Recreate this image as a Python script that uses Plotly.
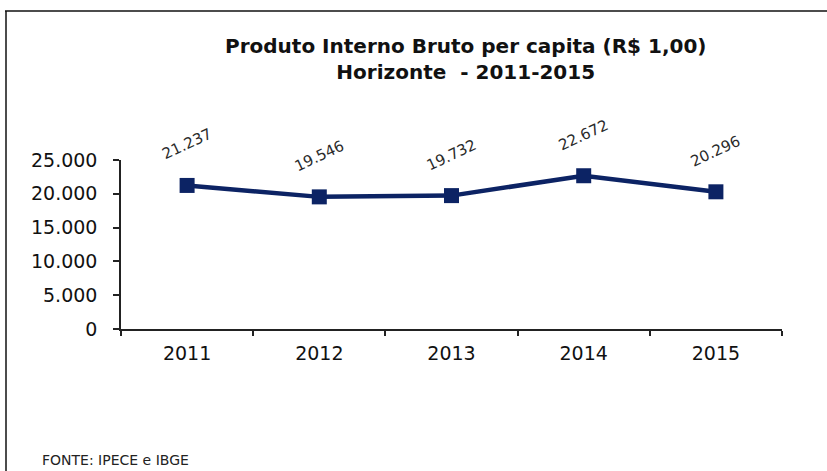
import plotly.graph_objects as go

years = ["2011", "2012", "2013", "2014", "2015"]
pib = [21237, 19546, 19732, 22672, 20296]
pib_labels = ["21.237", "19.546", "19.732", "22.672", "20.296"]
y_ticks = [0, 5000, 10000, 15000, 20000, 25000]
y_tick_labels = ["0", "5.000", "10.000", "15.000", "20.000", "25.000"]

navy = "#0c2364"

fig = go.Figure()
fig.add_trace(go.Scatter(
    x=years, y=pib, mode="lines+markers",
    line=dict(color=navy, width=4.5),
    marker=dict(symbol="square", size=15, color=navy),
    showlegend=False, hoverinfo="skip",
))

for i, (y, t) in enumerate(zip(pib, pib_labels)):
    fig.add_annotation(x=i, y=y, xref="x", yref="y", text=t, showarrow=False,
                       textangle=-25, yshift=41,
                       font=dict(family="DejaVu Sans", size=15, color="#2a2a2a"))

W, H = 827, 471
L, R, T, B = 121, 45, 160, 142
pw, ph = W - L - R, H - T - B

def px(xp):
    return (xp - L) / pw

def py(yp):
    return (H - B - yp) / ph

fig.add_annotation(x=px(465.5), y=py(59), xref="paper", yref="paper",
                   text="<b>Produto Interno Bruto per capita (R$ 1,00)<br>Horizonte  - 2011-2015</b>",
                   showarrow=False, align="center", xanchor="center", yanchor="middle",
                   font=dict(family="DejaVu Sans", size=20, color="#111111"))
fig.add_annotation(x=px(40), y=py(460), xref="paper", yref="paper",
                   text="FONTE: IPECE e IBGE", showarrow=False,
                   xanchor="left", yanchor="middle",
                   font=dict(family="DejaVu Sans", size=14, color="#222222"))

# border (top and left lines)
fig.add_shape(type="line", xref="paper", yref="paper",
              x0=px(5), x1=px(830), y0=py(11), y1=py(11),
              line=dict(color="#111111", width=1.5))
fig.add_shape(type="line", xref="paper", yref="paper",
              x0=px(6), x1=px(6), y0=py(11), y1=py(480),
              line=dict(color="#111111", width=1.5))

fig.update_layout(
    width=W, height=H,
    margin=dict(l=L, r=R, t=T, b=B),
    paper_bgcolor="white", plot_bgcolor="white",
    font=dict(family="DejaVu Sans", color="#111111"),
)
fig.update_xaxes(
    type="category", range=[-0.5, 4.5],
    showline=True, linecolor="#222222", linewidth=1.5,
    ticks="outside", tickson="boundaries", ticklen=5, tickcolor="#222222", tickwidth=1.5,
    showgrid=False, zeroline=False,
    tickfont=dict(family="DejaVu Sans", size=19, color="#111111"),
    ticklabelstandoff=6,
)
fig.update_yaxes(
    range=[0, 25000], tickvals=y_ticks, ticktext=y_tick_labels,
    showline=True, linecolor="#222222", linewidth=1.5,
    ticks="outside", ticklen=6, tickcolor="#222222", tickwidth=1.5,
    showgrid=False, zeroline=False,
    tickfont=dict(family="DejaVu Sans", size=19, color="#111111"),
    ticklabelstandoff=12,
)

fig.write_html("out.html", config={"displayModeBar": False},
               post_script="document.body.style.margin='0px';document.body.style.overflow='hidden';")
